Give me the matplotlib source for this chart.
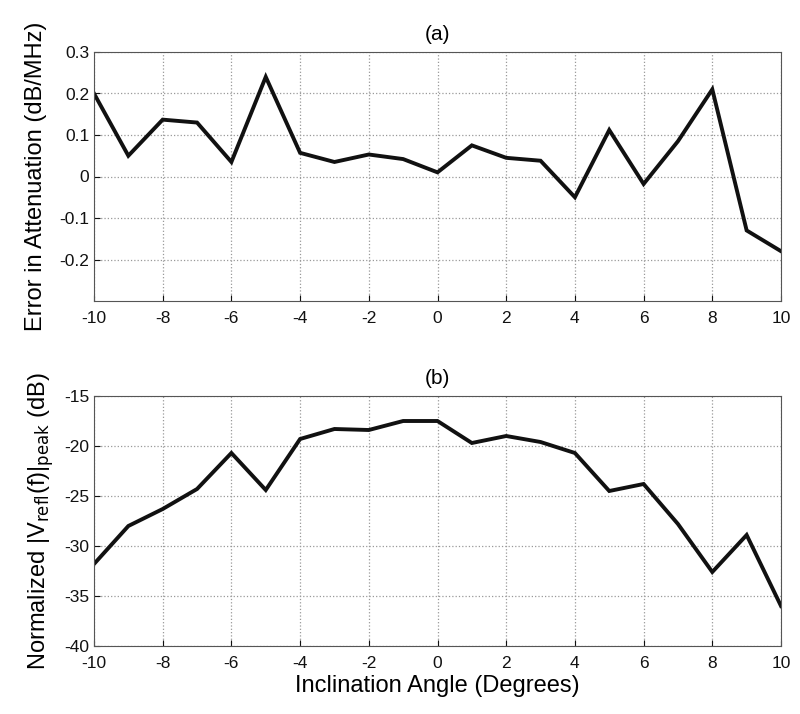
import numpy as np
import matplotlib
matplotlib.use("Agg")
import matplotlib.pyplot as plt

plt.rcParams["axes.unicode_minus"] = False

angles = list(range(-10, 11))
err_atten = [0.20, 0.05, 0.137, 0.13, 0.035, 0.24, 0.057, 0.035, 0.053, 0.042, 0.01,
             0.075, 0.045, 0.038, -0.05, 0.112, -0.018, 0.085, 0.21, -0.13, -0.18]
v_refl_peak = [-31.8, -28.0, -26.3, -24.3, -20.7, -24.4, -19.3, -18.3, -18.4, -17.5, -17.5,
               -19.7, -19.0, -19.6, -20.7, -24.5, -23.8, -27.8, -32.6, -28.9, -36.0]

tick_font = ["Liberation Sans Narrow", "Liberation Sans", "DejaVu Sans"]
label_font = ["Liberation Sans", "DejaVu Sans"]

fig = plt.figure(figsize=(8, 7.14), dpi=100)
ax1 = fig.add_axes([94/800, 1-301/714, 687/800, 249/714])
ax2 = fig.add_axes([94/800, 1-646/714, 687/800, 250/714])

ax1.plot(angles, err_atten, color="#111111", linewidth=2.8, solid_joinstyle="miter")
ax1.set_ylim(-0.3, 0.3)
ax1.set_yticks([-0.2, -0.1, 0, 0.1, 0.2, 0.3])
ax1.set_yticklabels(["-0.2", "-0.1", "0", "0.1", "0.2", "0.3"])
ax1.set_title("(a)", family=tick_font, fontsize=15, pad=9)
ax1.set_ylabel("Error in Attenuation (dB/MHz)", family=label_font, fontsize=17, labelpad=9)

ax2.plot(angles, v_refl_peak, color="#111111", linewidth=2.8, solid_joinstyle="miter")
ax2.set_ylim(-40, -15)
ax2.set_yticks(range(-40, -14, 5))
ax2.set_yticklabels([str(v) for v in range(-40, -14, 5)])
ax2.set_title("(b)", family=tick_font, fontsize=15, pad=9)
ax2.set_ylabel(r"Normalized |V$_{\mathrm{refl}}$(f)|$_{\mathrm{peak}}$ (dB)",
               family=label_font, fontsize=17, labelpad=6)
ax2.set_xlabel("Inclination Angle (Degrees)", family=tick_font, fontsize=17, labelpad=3)

for ax in (ax1, ax2):
    ax.grid(True, color="#999999", linestyle=":", linewidth=0.9)
    ax.set_xlim(-10, 10)
    ax.set_xticks(range(-10, 11, 2))
    ax.tick_params(direction="in", length=4, labelsize=12.5, colors="#111111")
    ax.tick_params(axis="x", pad=7)
    for lbl in ax.get_xticklabels() + ax.get_yticklabels():
        lbl.set_family(tick_font)
    for sp in ax.spines.values():
        sp.set_color("#555555")

fig.savefig("out.png", dpi=100)
